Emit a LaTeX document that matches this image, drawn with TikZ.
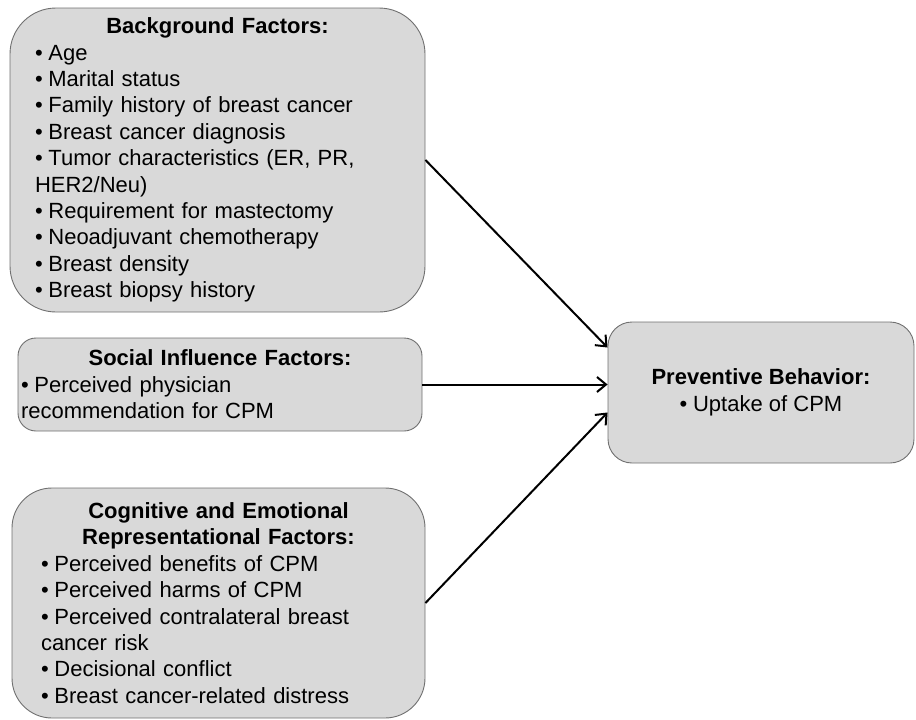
\documentclass[tikz,border=0pt]{standalone}
\usepackage{fontspec}
\setmainfont{Liberation Sans}
\usepackage{tikz}
\usetikzlibrary{arrows.meta}
\usetikzlibrary{positioning}
\definecolor{boxfill}{HTML}{D9D9D9}
\definecolor{boxline}{HTML}{707070}
\newcommand{\itm}{•\hspace{0.26em}}
\tikzset{
    factor/.style={draw=boxline, fill=boxfill, line width=0.9pt, inner sep=0pt,
        font=\fontsize{22}{26.4}\selectfont},
    link/.style={draw=black, line width=2pt,
        -{Straight Barb[length=9pt,width=15pt,line width=2pt]}},
}
\begin{document}
\begin{tikzpicture}[x=1pt, y=-1pt]
	\useasboundingbox (0,0) rectangle (916,720);
	% factor boxes
	\node[factor, rounded corners=46pt, minimum width=415pt, minimum height=304pt,
		text width=365pt] (bg) at (217.5,160) {%
		\centering\textbf{Background Factors:}\par\raggedright
		\itm Age\\
		\itm Marital status\\
		\itm Family history of breast cancer\\
		\itm Breast cancer diagnosis\\
		\itm Tumor characteristics (ER, PR,\\
		HER2/Neu)\\
		\itm Requirement for mastectomy\\
		\itm Neoadjuvant chemotherapy\\
		\itm Breast density\\
		\itm Breast biopsy history};
	\node[factor, rounded corners=18pt, minimum width=404pt, minimum height=93pt,
		text width=398pt] (soc) at (220,384.5) {%
		\centering\textbf{Social Influence Factors:}\par\raggedright
		\itm Perceived physician\\
		recommendation for CPM};
	\node[factor, rounded corners=40pt, minimum width=413pt, minimum height=230pt,
		text width=355pt] (cog) at (218.5,603) {%
		\centering\textbf{Cognitive and Emotional\\ Representational Factors:}\par\raggedright
		\itm Perceived benefits of CPM\\
		\itm Perceived harms of CPM\\
		\itm Perceived contralateral breast\\
		cancer risk\\
		\itm Decisional conflict\\
		\itm Breast cancer-related distress};
	% outcome
	\node[factor, rounded corners=24pt, minimum width=306pt, minimum height=141pt,
		align=center] (prev) at (761,392.5) {%
		\textbf{Preventive Behavior:}\\
		\itm Uptake of CPM};
	% arrows
	\draw[link] (bg.east) -- ([yshift=45pt]prev.west);
	\draw[link] (soc.east) -- (soc.east -| prev.west);
	\draw[link] (cog.east) -- ([yshift=-20pt]prev.west);
\end{tikzpicture}
\end{document}
